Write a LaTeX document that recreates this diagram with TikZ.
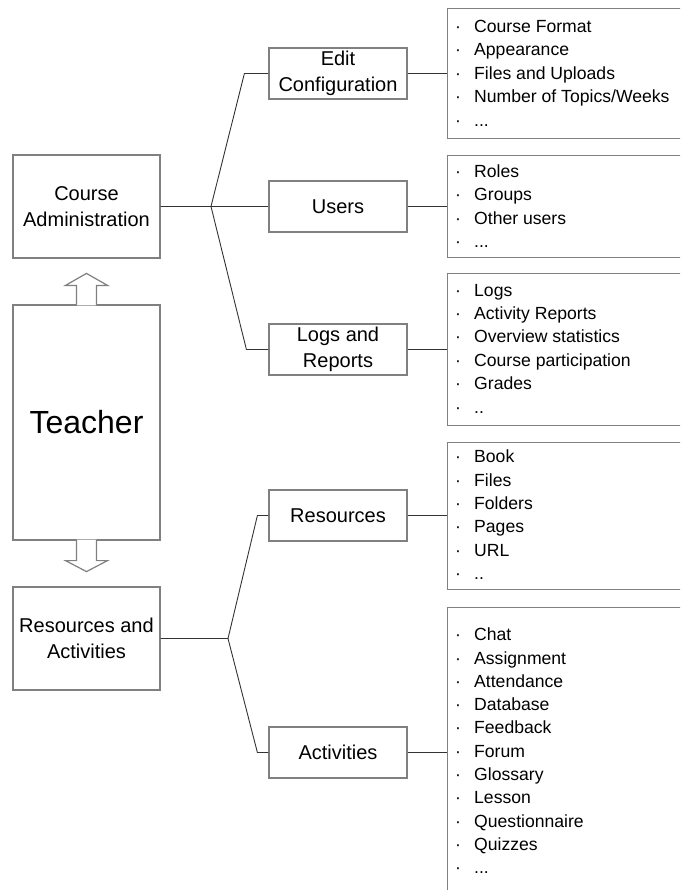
\documentclass[tikz,border=0pt]{standalone}
\usepackage{fontspec}
\setmainfont{Liberation Sans}
\usetikzlibrary{calc}

\newcommand\moredots{...}
\newcommand\fewdots{..}

\tikzset{
  box/.style={draw=black!50, line width=1.2pt, minimum width=147pt, minimum height=103pt, inner sep=0pt, align=center, font=\fontsize{20}{26}\selectfont},
  subbox/.style={box, minimum width=138pt, minimum height=51pt},
  listbox/.style={draw=black!50, line width=1.2pt, anchor=north west, minimum width=240pt, inner sep=0pt},
  item/.style={anchor=base west, inner sep=0pt, font=\fontsize{17.6}{23.4}\selectfont},
  link/.style={draw=black!80, line width=0.9pt},
  hollow/.style={draw=black!50, line width=1.2pt, fill=white}
}

\begin{document}
\begin{tikzpicture}[x=1pt, y=-1pt]
\clip (0,0) rectangle (680,890);
% left column
\node[box] (ca) at (86.5,206.5) {Course\\Administration};
\node[box, minimum height=235pt, font=\fontsize{32}{38}\selectfont] (teacher) at (86.5,422.5) {Teacher};
\node[box] (ra) at (86.5,638.5) {Resources and\\Activities};
\draw[hollow] ($(teacher.north)+(-10,1)$) -- ++(0,-20) -- ++(-11,0) -- ++(21,-12) -- ++(21,12) -- ++(-11,0) -- ++(0,20);
\draw[hollow] ($(teacher.south)+(-10,-1)$) -- ++(0,21) -- ++(-11,0) -- ++(21,11) -- ++(21,-11) -- ++(-11,0) -- ++(0,-21);
% middle column
\node[subbox] (edit) at (338,73.5) {Edit\\Configuration};
\node[subbox] (users) at (338,206.5) {Users};
\node[subbox] (logs) at (338,349.5) {Logs and\\Reports};
\node[subbox] (res) at (338,515.5) {Resources};
\node[subbox] (act) at (338,752.5) {Activities};
% list boxes
\node[listbox, minimum height=130pt] (cf) at (447,8) {};
\node[listbox, minimum height=102pt] (us) at (447,155) {};
\node[listbox, minimum height=152pt] (lg) at (447,273) {};
\node[listbox, minimum height=147pt] (rs) at (447,442) {};
\node[listbox, minimum height=300pt] (ac) at (447,607) {};
% connectors
\coordinate (caj) at (211,206.5);
\coordinate (raj) at (228,638.5);
\draw[link] (ca.east) -- (caj) -- ($(edit.west)+(-24,0)$) -- (edit.west);
\draw[link] (caj) -- (users.west);
\draw[link] (caj) -- ($(logs.west)+(-22,0)$) -- (logs.west);
\draw[link] (ra.east) -- (raj) -- ($(res.west)+(-11,0)$) -- (res.west);
\draw[link] (raj) -- ($(act.west)+(-11,0)$) -- (act.west);
\draw[link] (edit.east) -- (edit.east -| cf.west);
\draw[link] (users.east) -- (users.east -| us.west);
\draw[link] (logs.east) -- (logs.east -| lg.west);
\draw[link] (res.east) -- (res.east -| rs.west);
\draw[link] (act.east) -- (act.east -| ac.west);
% list items
\foreach \t [count=\i] in {Course Format, Appearance, Files and Uploads, Number of Topics/Weeks, \moredots}
  \node[item] (cf\i) at (455,{32.5+23.4*(\i-1)}) {\makebox[19pt][l]{·}\t};
\foreach \t [count=\i] in {Roles, Groups, Other users, \moredots}
  \node[item] (us\i) at (455,{177.5+23.4*(\i-1)}) {\makebox[19pt][l]{·}\t};
\foreach \t [count=\i] in {Logs, Activity Reports, Overview statistics, Course participation, Grades, \fewdots}
  \node[item] (lg\i) at (455,{296+23.4*(\i-1)}) {\makebox[19pt][l]{·}\t};
\foreach \t [count=\i] in {Book, Files, Folders, Pages, URL, \fewdots}
  \node[item] (rs\i) at (455,{462.7+23.4*(\i-1)}) {\makebox[19pt][l]{·}\t};
\foreach \t [count=\i] in {Chat, Assignment, Attendance, Database, Feedback, Forum, Glossary, Lesson, Questionnaire, Quizzes, \moredots}
  \node[item] (ac\i) at (455,{640.7+23.3*(\i-1)}) {\makebox[19pt][l]{·}\t};
\end{tikzpicture}
\end{document}
